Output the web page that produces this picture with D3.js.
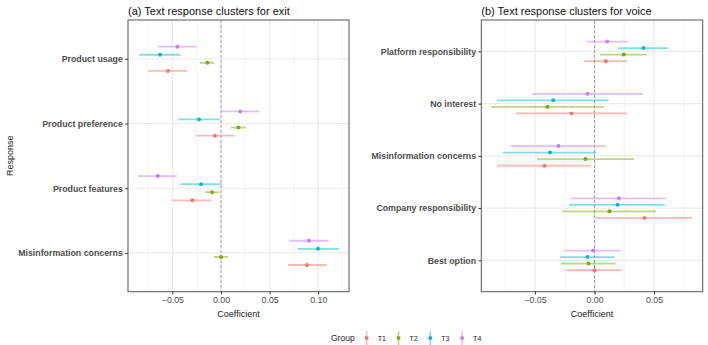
<!DOCTYPE html>
<html>
<head>
<meta charset="utf-8">
<script src="https://cdn.jsdelivr.net/npm/d3@7"></script>
<style>
  body { margin: 0; background: #fff; }
  svg { display: block; font-family: "Liberation Sans", Arial, sans-serif; }
</style>
</head>
<body>
<svg id="chart" width="708" height="345"></svg>
<script>
// groups and colours (ggplot default hue palette)
const groups = ["T1", "T2", "T3", "T4"];
const groupColors = ["#F8766D", "#7CAE00", "#00BFC4", "#C77CFF"];

// (a) exit — rows follow exitCategories, columns follow groups
const exitCategories = ["Product usage", "Product preference", "Product features", "Misinformation concerns"];
const exitEstimate = [
    [-0.0545, -0.0140, -0.0627, -0.0448],
    [-0.0062,  0.0179, -0.0226,  0.0199],
    [-0.0294, -0.0092, -0.0205, -0.0650],
    [ 0.0884,  0.0000,  0.0997,  0.0904]
];
const exitLow = [
    [-0.0750, -0.0219, -0.0842, -0.0650],
    [-0.0263,  0.0103, -0.0438,  0.0007],
    [-0.0496, -0.0167, -0.0421, -0.0853],
    [ 0.0688, -0.0075,  0.0785,  0.0703]
];
const exitHigh = [
    [-0.0345, -0.0068, -0.0417, -0.0253],
    [ 0.0141,  0.0254, -0.0013,  0.0395],
    [-0.0096, -0.0020,  0.0000, -0.0455],
    [ 0.1086,  0.0076,  0.1213,  0.1107]
];
const exitTicks = [-0.05, 0, 0.05, 0.10];

// (b) voice
const voiceCategories = ["Platform responsibility", "No interest", "Misinformation concerns", "Company responsibility", "Best option"];
const voiceEstimate = [
    [ 0.0095,  0.0246,  0.0412,  0.0106],
    [-0.0193, -0.0395, -0.0347, -0.0059],
    [-0.0420, -0.0076, -0.0373, -0.0303],
    [ 0.0420,  0.0126,  0.0193,  0.0204],
    [ 0.0000, -0.0050, -0.0059, -0.0011]
];
const voiceLow = [
    [-0.0087,  0.0048,  0.0196, -0.0070],
    [-0.0664, -0.0866, -0.0818, -0.0524],
    [-0.0815, -0.0482, -0.0770, -0.0706],
    [ 0.0006, -0.0277, -0.0213, -0.0202],
    [-0.0241, -0.0283, -0.0289, -0.0252]
];
const voiceHigh = [
    [ 0.0275,  0.0440,  0.0619,  0.0280],
    [ 0.0275,  0.0078,  0.0120,  0.0406],
    [-0.0034,  0.0333,  0.0011,  0.0095],
    [ 0.0824,  0.0518,  0.0591,  0.0597],
    [ 0.0230,  0.0179,  0.0168,  0.0216]
];
const voiceTicks = [-0.05, 0, 0.05];

const svg = d3.select("#chart");
const color = d3.scaleOrdinal(groups, groupColors);
const fmt = d3.format(".2f");
const DODGE = 0.5;
const panelTop = 20, panelBottom = 291.7;

function drawPanel(opts) {
    const { title, categories, est, low, high, ticks, left, right } = opts;
    const g = svg.append("g");
    const n = categories.length;

    // ggplot style 5% expansion on continuous axis
    const lo = d3.min(low, r => d3.min(r)), hi = d3.max(high, r => d3.max(r));
    const pad = (hi - lo) * 0.05;
    const x = d3.scaleLinear().domain([lo - pad, hi + pad]).range([left, right]);
    // discrete axis: 0.6 added each side, first category on top
    const y = d3.scaleLinear().domain([0.4, n + 0.6]).range([panelBottom, panelTop]);
    const catPos = (i) => n - i;

    // grid
    const step = ticks[1] - ticks[0];
    const minor = d3.range(ticks[0] - step / 2, hi + pad, step).filter(v => v > lo - pad);
    g.selectAll("line.minor").data(minor).join("line")
        .attr("x1", d => x(d)).attr("x2", d => x(d))
        .attr("y1", panelTop).attr("y2", panelBottom)
        .attr("stroke", "#EBEBEB").attr("stroke-width", 0.6);
    g.selectAll("line.majorx").data(ticks).join("line")
        .attr("x1", d => x(d)).attr("x2", d => x(d))
        .attr("y1", panelTop).attr("y2", panelBottom)
        .attr("stroke", "#EBEBEB").attr("stroke-width", 1.1);
    g.selectAll("line.majory").data(categories).join("line")
        .attr("x1", left).attr("x2", right)
        .attr("y1", (d, i) => y(catPos(i))).attr("y2", (d, i) => y(catPos(i)))
        .attr("stroke", "#EBEBEB").attr("stroke-width", 1.1);

    // zero line
    g.append("line")
        .attr("x1", x(0)).attr("x2", x(0))
        .attr("y1", panelTop).attr("y2", panelBottom)
        .attr("stroke", "#999").attr("stroke-width", 0.9)
        .attr("stroke-dasharray", "3,2");

    // point ranges
    const rows = [];
    categories.forEach((c, i) => groups.forEach((grp, j) => {
        rows.push({ grp, pos: catPos(i) + (j - 1.5) * DODGE / 4, est: est[i][j], lo: low[i][j], hi: high[i][j] });
    }));
    g.selectAll("line.range").data(rows).join("line")
        .attr("x1", d => x(d.lo)).attr("x2", d => x(d.hi))
        .attr("y1", d => y(d.pos)).attr("y2", d => y(d.pos))
        .attr("stroke", d => color(d.grp)).attr("stroke-width", 1.8)
        .attr("stroke-opacity", 0.5);
    g.selectAll("circle").data(rows).join("circle")
        .attr("cx", d => x(d.est)).attr("cy", d => y(d.pos))
        .attr("r", 2).attr("fill", d => color(d.grp));

    // border
    g.append("rect")
        .attr("x", left).attr("y", panelTop)
        .attr("width", right - left).attr("height", panelBottom - panelTop)
        .attr("fill", "none").attr("stroke", "#555").attr("stroke-width", 1);

    // axes
    const xAxis = g.append("g")
        .attr("transform", `translate(0,${panelBottom})`)
        .call(d3.axisBottom(x).tickValues(ticks).tickFormat(fmt).tickSizeOuter(0).tickSize(2.7).tickPadding(2))
        .attr("font-family", null);
    xAxis.select(".domain").remove();
    xAxis.selectAll("line").attr("stroke", "#333");
    xAxis.selectAll("text").attr("fill", "#4D4D4D").attr("font-size", 8.8);

    const yAxis = g.append("g")
        .attr("transform", `translate(${left},0)`)
        .call(d3.axisLeft(y).tickValues(categories.map((c, i) => catPos(i)))
            .tickFormat(v => categories[n - v]).tickSizeOuter(0).tickSize(2.7).tickPadding(2.5))
        .attr("font-family", null);
    yAxis.select(".domain").remove();
    yAxis.selectAll("line").attr("stroke", "#333");
    yAxis.selectAll("text").attr("fill", "#4D4D4D").attr("font-size", 8.8)
        .attr("font-weight", "bold");

    g.append("text")
        .attr("x", (left + right) / 2).attr("y", 316.5)
        .attr("text-anchor", "middle").attr("font-size", 9)
        .attr("fill", "#222").text("Coefficient");

    g.append("text")
        .attr("x", left).attr("y", 14.5)
        .attr("font-size", 11).attr("fill", "#111").text(title);
}

drawPanel({
    title: "(a) Text response clusters for exit",
    categories: exitCategories, est: exitEstimate, low: exitLow, high: exitHigh,
    ticks: exitTicks, left: 128, right: 349
});
drawPanel({
    title: "(b) Text response clusters for voice",
    categories: voiceCategories, est: voiceEstimate, low: voiceLow, high: voiceHigh,
    ticks: voiceTicks, left: 481.3, right: 702.7
});

// y axis title
svg.append("text")
    .attr("transform", `translate(13,${(panelTop + panelBottom) / 2}) rotate(-90)`)
    .attr("text-anchor", "middle").attr("font-size", 9)
    .attr("fill", "#222").text("Response");

// legend
const legend = svg.append("g");
legend.append("text")
    .attr("x", 331).attr("y", 341)
    .attr("font-size", 8.5).attr("fill", "#222").text("Group");
const keys = legend.selectAll("g.key").data(groups).join("g")
    .attr("transform", (d, i) => `translate(${366.7 + i * 31.8},0)`);
keys.append("line")
    .attr("x1", 0).attr("x2", 0).attr("y1", 331).attr("y2", 345)
    .attr("stroke", d => color(d)).attr("stroke-width", 1.5).attr("stroke-opacity", 0.5);
keys.append("circle")
    .attr("cx", 0).attr("cy", 338).attr("r", 2).attr("fill", d => color(d));
keys.append("text")
    .attr("x", 11).attr("y", 340.5)
    .attr("font-size", 7).attr("fill", "#222").text(d => d);
</script>
</body>
</html>
